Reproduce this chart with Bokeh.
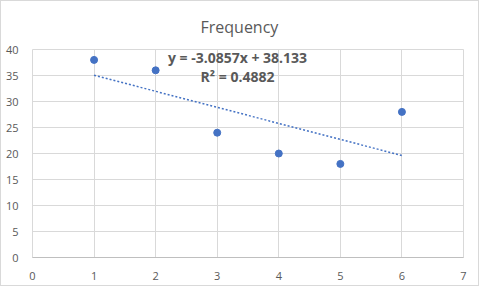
import numpy as np
from bokeh.plotting import figure
from bokeh.models import Range1d, SingleIntervalTicker, Label
from bokeh.embed import file_html
from bokeh.resources import INLINE

# Data
x_vals = [1, 2, 3, 4, 5, 6]
freq = [38, 36, 24, 20, 18, 28]
title_text = "Frequency"
eq_text = "y = -3.0857x + 38.133"
r2_text = "R² = 0.4882"

FONT = "Open Sans"
GREY = "#595959"
BLUE = "#4472C4"

p = figure(width=479, height=286, output_backend="svg", toolbar_location=None,
           x_range=Range1d(0, 7), y_range=Range1d(0, 40),
           min_border_left=31, min_border_right=17, min_border_top=48, min_border_bottom=30)
p.styles = {"border": "1px solid #d9d9d9"}

p.title.text = title_text
p.title.align = "left"
p.title.offset = 168
p.title.standoff = 24
p.title.text_font = FONT
p.title.text_font_size = "16px"
p.title.text_font_style = "normal"
p.title.text_color = GREY

p.outline_line_color = "#d9d9d9"
p.xaxis.ticker = SingleIntervalTicker(interval=1)
p.yaxis.ticker = SingleIntervalTicker(interval=5)
p.xgrid.ticker = SingleIntervalTicker(interval=1)
p.ygrid.ticker = SingleIntervalTicker(interval=5)
for g in (p.xgrid, p.ygrid):
    g.grid_line_color = "#d9d9d9"
    g.grid_line_width = 1

for ax in (p.xaxis, p.yaxis):
    ax.major_tick_line_color = None
    ax.minor_tick_line_color = None
    ax.major_label_text_font = FONT
    ax.major_label_text_font_size = "11px"
    ax.major_label_text_color = GREY
p.yaxis.axis_line_color = None
p.xaxis.axis_line_color = "#bfbfbf"
p.yaxis.major_label_standoff = 8
p.xaxis.major_label_standoff = 8

# trendline from least squares fit of the data
m, b = np.polyfit(x_vals, freq, 1)
tx = [min(x_vals), max(x_vals)]
ty = [m * v + b for v in tx]
p.line(tx, ty, line_color=BLUE, line_width=1.5, line_dash="2 2")

p.scatter(x_vals, freq, size=7, fill_color=BLUE, line_color=BLUE)

p.add_layout(Label(x=3.33, y=38.4, text=eq_text, text_font=FONT, text_font_size="14px",
                   text_font_style="bold", text_color=GREY, text_align="center",
                   text_baseline="middle"))
p.add_layout(Label(x=3.33, y=34.8, text=r2_text, text_font=FONT, text_font_size="14px",
                   text_font_style="bold", text_color=GREY, text_align="center",
                   text_baseline="middle"))

open("out.html", "w").write(file_html(p, INLINE))
